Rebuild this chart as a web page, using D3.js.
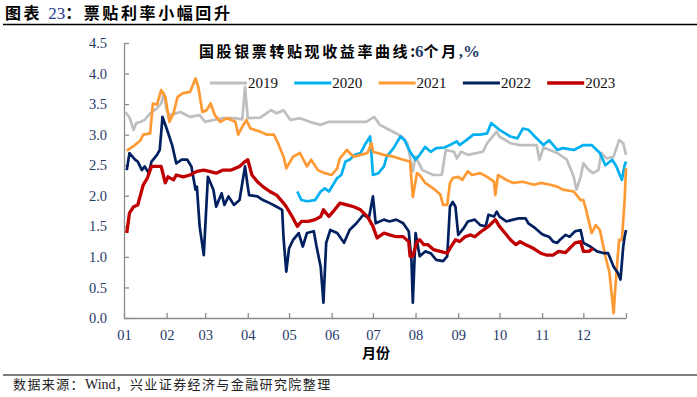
<!DOCTYPE html>
<html lang="zh">
<head>
<meta charset="utf-8">
<title>票贴利率小幅回升</title>
<script src="https://d3js.org/d3.v7.min.js"></script>
<style>
  body { margin: 0; background: #fff; }
  .cjk { font-family: "Noto Sans CJK SC", sans-serif; }
  .serif { font-family: "Liberation Serif", "Times New Roman", serif; }
  .axis path, .axis line { stroke: #8c8c8c; stroke-width: 1.3; }
  .axis text { font-family: "Liberation Serif", serif; font-size: 14.5px; fill: #1f3a68; }
</style>
</head>
<body>
<script>
// day of year (0-365) and rate (%)
const y2019 = [[1,3.37],[4,3.28],[7,3.08],[9,3.19],[12,3.21],[15,3.24],[19,3.35],[24,3.43],[27,3.51],[29,3.68],[31,3.40],[33,3.32],[41,3.37],[48,3.29],[55,3.32],[59,3.21],[65,3.24],[72,3.27],[80,3.27],[86,3.25],[88,3.78],[90,3.27],[99,3.28],[107,3.40],[111,3.35],[116,3.40],[121,3.24],[128,3.27],[135,3.21],[143,3.16],[149,3.21],[157,3.21],[167,3.21],[176,3.21],[182,3.29],[186,3.16],[191,3.10],[198,3.02],[203,2.95],[206,2.86],[210,2.40],[212,2.64],[217,2.42],[225,2.34],[231,2.34],[234,2.75],[240,2.72],[242,2.61],[245,2.72],[250,2.67],[261,2.72],[264,2.86],[271,3.05],[273,2.97],[281,2.86],[288,2.83],[300,2.83],[302,2.59],[305,2.79],[315,2.70],[322,2.59],[327,2.31],[329,2.10],[332,2.31],[334,2.53],[338,2.42],[341,2.37],[345,2.42],[347,2.70],[351,2.61],[356,2.64],[360,2.91],[363,2.86],[365,2.67]];
const y2020 = [[126,2.07],[129,1.93],[133,1.91],[139,1.93],[143,2.07],[146,2.12],[149,2.07],[152,2.18],[155,2.29],[158,2.34],[161,2.56],[164,2.59],[168,2.67],[172,2.70],[175,2.83],[179,2.97],[181,2.34],[185,2.37],[189,2.48],[191,2.64],[196,2.78],[201,2.97],[204,2.91],[208,2.72],[212,2.59],[215,2.67],[219,2.80],[223,2.72],[227,2.78],[233,2.79],[237,2.83],[242,2.89],[244,2.83],[249,2.91],[254,3.00],[259,3.00],[264,3.02],[267,3.19],[273,3.08],[281,2.97],[286,2.94],[290,3.10],[294,3.08],[300,2.94],[305,2.83],[309,2.91],[315,2.75],[319,2.78],[327,2.75],[334,2.83],[340,2.83],[346,2.70],[350,2.50],[355,2.59],[358,2.48],[362,2.26],[364,2.50],[365,2.56]];
const y2021 = [[2,2.74],[8,2.83],[12,2.91],[14,3.00],[19,3.02],[21,3.51],[24,3.49],[27,3.73],[30,3.62],[33,3.21],[36,3.35],[39,3.62],[43,3.68],[48,3.70],[52,3.92],[54,3.78],[57,3.37],[60,3.40],[63,3.51],[66,3.32],[70,3.21],[75,3.27],[81,3.21],[83,3.00],[86,3.13],[89,3.24],[92,3.10],[99,3.05],[104,3.00],[109,3.00],[112,2.86],[116,2.64],[118,2.45],[123,2.64],[128,2.70],[133,2.48],[136,2.59],[141,2.42],[146,2.37],[151,2.34],[155,2.45],[157,2.61],[162,2.75],[167,2.64],[172,2.67],[177,2.70],[180,2.86],[181,2.72],[189,2.67],[196,2.64],[203,2.59],[208,2.56],[210,1.98],[213,2.37],[215,2.34],[219,2.21],[223,2.15],[226,2.10],[230,2.02],[232,1.85],[235,1.85],[237,2.21],[239,2.29],[243,2.31],[246,2.26],[250,2.40],[253,2.34],[259,2.37],[264,2.31],[269,2.23],[270,2.01],[272,2.34],[278,2.26],[283,2.21],[290,2.23],[298,2.18],[303,2.21],[310,2.18],[315,2.15],[319,2.10],[327,2.07],[332,1.93],[334,1.93],[336,1.77],[340,1.39],[343,1.52],[346,1.44],[350,1.01],[353,0.74],[356,0.08],[358,0.74],[360,1.28],[362,1.28],[364,1.93],[365,2.45]];
const y2022 = [[2,2.42],[4,2.70],[8,2.59],[10,2.56],[13,2.42],[15,2.48],[18,2.37],[20,2.56],[24,2.67],[26,2.75],[28,3.29],[31,3.10],[35,2.83],[38,2.53],[42,2.59],[46,2.59],[49,2.48],[52,2.10],[53,2.15],[55,1.50],[58,1.03],[61,2.31],[65,2.10],[67,1.82],[71,2.04],[73,1.85],[76,1.99],[80,1.85],[84,1.93],[88,2.48],[90,2.15],[91,2.01],[97,1.99],[101,1.93],[106,1.88],[111,1.82],[115,1.77],[116,1.31],[118,0.76],[120,1.14],[123,1.28],[127,1.39],[130,1.17],[133,1.39],[138,1.42],[140,1.17],[143,0.84],[145,0.25],[147,1.23],[150,1.44],[155,1.39],[160,1.23],[164,1.44],[169,1.55],[174,1.69],[178,1.63],[181,1.99],[183,1.55],[189,1.61],[193,1.58],[198,1.61],[203,1.55],[207,1.42],[209,0.95],[210,0.25],[212,1.39],[215,1.01],[219,1.09],[223,1.06],[227,0.95],[232,0.93],[235,1.01],[237,1.82],[239,1.90],[241,1.82],[243,1.36],[247,1.47],[250,1.58],[255,1.61],[259,1.52],[263,1.50],[265,1.69],[269,1.66],[271,1.74],[273,1.66],[278,1.58],[283,1.61],[287,1.63],[292,1.63],[294,1.55],[299,1.47],[303,1.39],[305,1.36],[309,1.33],[312,1.25],[315,1.23],[317,1.28],[321,1.36],[324,1.33],[328,1.42],[332,1.44],[334,1.23],[339,1.17],[344,1.09],[349,1.06],[352,1.06],[356,0.84],[359,0.74],[361,0.63],[363,1.17],[364,1.33],[365,1.44]];
const y2023 = [[2,1.39],[4,1.72],[7,1.82],[10,1.85],[14,2.18],[17,2.29],[19,2.42],[20,2.48],[27,2.48],[30,2.21],[32,2.31],[36,2.26],[38,2.34],[43,2.31],[48,2.34],[53,2.40],[58,2.42],[62,2.40],[67,2.37],[72,2.42],[78,2.42],[84,2.48],[88,2.56],[90,2.59],[93,2.34],[97,2.23],[101,2.15],[106,2.07],[111,2.01],[116,1.88],[118,1.82],[123,1.63],[126,1.50],[129,1.58],[134,1.58],[139,1.61],[143,1.66],[145,1.77],[149,1.66],[152,1.74],[157,1.88],[162,1.85],[167,1.82],[172,1.77],[177,1.66],[181,1.50],[184,1.31],[189,1.39],[193,1.36],[198,1.33],[203,1.33],[207,1.25],[208,1.01],[210,1.01],[213,1.25],[215,1.28],[218,1.20],[221,1.20],[225,1.12],[230,1.09],[235,1.06],[237,1.14],[241,1.28],[244,1.25],[248,1.33],[252,1.36],[255,1.33],[260,1.42],[265,1.50],[270,1.61],[273,1.50],[277,1.39],[281,1.28],[285,1.20],[288,1.25],[292,1.20],[295,1.17],[299,1.12],[303,1.06],[307,1.03],[312,1.03],[316,1.09],[321,1.07],[324,1.14],[328,1.23],[332,1.25],[334,1.09],[338,1.09],[341,1.14]];

const seriesNames = ["2019", "2020", "2021", "2022", "2023"];
const seriesData = [y2019, y2020, y2021, y2022, y2023];
const colors = ["#bfbfbf", "#00b0f0", "#ff9933", "#002060", "#c00000"];
const widths = [2.7, 2.7, 2.7, 2.7, 3.3];

const monthStarts = [0, 31, 59, 90, 120, 151, 181, 212, 243, 273, 304, 334];
const monthLabels = ["01", "02", "03", "04", "05", "06", "07", "08", "09", "10", "11", "12"];
const yTicks = [0, 0.5, 1, 1.5, 2, 2.5, 3, 3.5, 4, 4.5];

const w = 697, h = 397;
const plotL = 124, plotR = 626, plotT = 43, plotB = 318;

const svg = d3.select("body").append("svg")
    .attr("width", w)
    .attr("height", h);

const x = d3.scaleLinear().domain([0, 365]).range([plotL, plotR]);
const y = d3.scaleLinear().domain([0, 4.5]).range([plotB, plotT]);

// header
const title = svg.append("text")
    .attr("class", "cjk")
    .attr("x", 5).attr("y", 19)
    .attr("font-size", 16).attr("font-weight", 700);
title.append("tspan").attr("letter-spacing", 2.5).text("图表 ");
title.append("tspan").attr("class", "serif").attr("fill", "#1f3a8a").attr("font-weight", 400).attr("font-size", 17).text("23");
title.append("tspan").attr("letter-spacing", 2.6).text("：票贴利率小幅回升");

svg.append("line")
    .attr("x1", 3).attr("x2", w).attr("y1", 24.5).attr("y2", 24.5)
    .attr("stroke", "#000").attr("stroke-width", 1.3);

const sub = svg.append("text")
    .attr("class", "cjk")
    .attr("x", 199).attr("y", 57)
    .attr("font-size", 15).attr("font-weight", 700);
sub.append("tspan").attr("letter-spacing", 2.6).text("国股银票转贴现收益率曲线");
sub.append("tspan").text(":");
sub.append("tspan").attr("class", "serif").attr("fill", "#1f3a68").attr("font-size", 17).text("6");
sub.append("tspan").attr("letter-spacing", 2.6).text("个月");
sub.append("tspan").attr("class", "serif").attr("fill", "#1f3a68").attr("font-size", 17).text(",%");

// axes
const yAxis = d3.axisLeft(y)
    .tickValues(yTicks)
    .tickFormat(d3.format(".1f"))
    .tickSizeInner(-5)
    .tickSizeOuter(0)
    .tickPadding(17);

svg.append("g")
    .attr("class", "axis")
    .attr("transform", "translate(" + plotL + ",0)")
    .call(yAxis);

const xAxis = d3.axisBottom(x)
    .tickValues(monthStarts.concat([365]))
    .tickFormat((d) => {
        const i = monthStarts.indexOf(d);
        return i >= 0 ? monthLabels[i] : "";
    })
    .tickSizeInner(-5)
    .tickSizeOuter(0)
    .tickPadding(12);

svg.append("g")
    .attr("class", "axis")
    .attr("transform", "translate(0," + plotB + ")")
    .call(xAxis);

svg.append("text")
    .attr("class", "cjk")
    .attr("x", 376).attr("y", 358)
    .attr("text-anchor", "middle")
    .attr("font-size", 14).attr("font-weight", 700)
    .text("月份");

// lines
const line = d3.line()
    .x((d) => x(d[0]))
    .y((d) => y(d[1]));

svg.selectAll(".series")
    .data(seriesData)
    .enter()
    .append("path")
    .attr("class", "series")
    .attr("fill", "none")
    .attr("stroke", (d, i) => colors[i])
    .attr("stroke-width", (d, i) => widths[i])
    .attr("stroke-linejoin", "round")
    .attr("d", line);

// legend
const legend = svg.selectAll(".legend")
    .data(seriesNames)
    .enter()
    .append("g")
    .attr("class", "legend")
    .attr("transform", (d, i) => "translate(" + (210 + i * 84.3) + ",83)");

legend.append("line")
    .attr("x1", 0).attr("x2", 37)
    .attr("stroke", (d, i) => colors[i])
    .attr("stroke-width", (d, i) => widths[i] + 0.4);

legend.append("text")
    .attr("class", "serif")
    .attr("x", 38).attr("y", 5)
    .attr("font-size", 15)
    .attr("fill", "#111")
    .text((d) => d);

// footer
svg.append("line")
    .attr("x1", 3).attr("x2", w).attr("y1", 375).attr("y2", 375)
    .attr("stroke", "#000").attr("stroke-width", 1.2);

const src = svg.append("text")
    .attr("class", "cjk")
    .attr("x", 13).attr("y", 389)
    .attr("font-size", 13)
    .attr("fill", "#222");
src.append("tspan").attr("letter-spacing", 1.4).text("数据来源：");
src.append("tspan").attr("class", "serif").attr("font-size", 14).text("Wind");
src.append("tspan").attr("letter-spacing", 1.4).text("，兴业证券经济与金融研究院整理");
</script>
</body>
</html>
